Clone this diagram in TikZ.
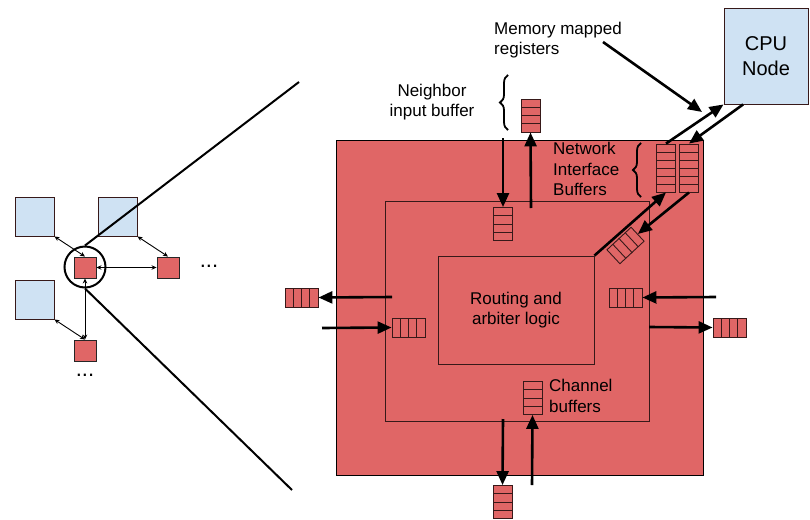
\documentclass[tikz,border=0pt]{standalone}
\usepackage{fontspec}
\setmainfont{Liberation Sans}
\usepackage{tikz}
\usetikzlibrary{arrows.meta,positioning,shapes,calc,decorations.pathreplacing}
\definecolor{router}{RGB}{224,102,102}
\definecolor{cpunode}{RGB}{207,226,243}
\definecolor{rim}{RGB}{55,25,25}

\begin{document}
\begin{tikzpicture}[x=1pt, y=-1pt,
  arr/.style={-{Triangle[length=14pt,width=12pt]}, line width=2.6pt},
  link/.style={{Stealth[length=5pt,width=4.5pt]}-{Stealth[length=5pt,width=4.5pt]}, line width=0.9pt},
  lbl/.style={font=\fontsize{17}{20.5}\selectfont, inner sep=0pt, align=left},
  cell/.style={draw=rim, fill=router, line width=0.9pt, inner sep=0pt},
  hbox/.style={cell, minimum width=33, minimum height=19},
  hbuf/.style={hbox,
    path picture={\foreach \k in {1,2,3}
      \draw[rim, line width=0.9pt]
        ($(path picture bounding box.north west)!\k/4!(path picture bounding box.north east)$) --
        ($(path picture bounding box.south west)!\k/4!(path picture bounding box.south east)$);}},
  vbuf/.style={cell, minimum width=19, minimum height=33,
    path picture={\foreach \k in {1,2,3}
      \draw[rim, line width=0.9pt]
        ($(path picture bounding box.north west)!\k/4!(path picture bounding box.south west)$) --
        ($(path picture bounding box.north east)!\k/4!(path picture bounding box.south east)$);}},
  nibuf/.style={cell, minimum width=19, minimum height=48,
    path picture={\foreach \k in {1,...,5}
      \draw[rim, line width=0.9pt]
        ($(path picture bounding box.north west)!\k/6!(path picture bounding box.south west)$) --
        ($(path picture bounding box.north east)!\k/6!(path picture bounding box.south east)$);}},
  core/.style={draw=rim, fill=cpunode, line width=0.9pt, minimum size=39, inner sep=0pt},
  hop/.style={cell, draw=black!85, minimum width=22, minimum height=21},
  brc/.style={decorate, decoration={brace, amplitude=8pt}, line width=1.8pt}]
\useasboundingbox (0,0) rectangle (810,519);
%% ---- small network ----
\node[core] (c1) at (34.5,216.5) {};
\node[core] (c2) at (117.5,216.5) {};
\node[core] (c3) at (34.5,299.5) {};
\node[hop] (r1) at (85,267.5) {};
\node[hop] (r2) at (168,267.5) {};
\node[hop] (r3) at (85,350.5) {};
\node[lbl, font=\fontsize{22}{22}\selectfont] (dots1) at (209,266) {...};
\node[lbl, font=\fontsize{22}{22}\selectfont] (dots2) at (85,375) {...};
\draw[link] (c1.south east) -- (r1.north);
\draw[link] (c2.south east) -- (r2.north);
\draw[link] (r1.east) -- (r2.west);
\draw[link] (r1.south) -- (r3.north);
\draw[link] (c3.south east) -- (r3.north);
\node[circle, draw, line width=2pt, minimum size=41, inner sep=0pt] (ring) at (85,267) {};
\coordinate (ztop) at (299,82);
\coordinate (zbot) at (292,490);
\draw[line width=2pt] (ring.north) -- (ztop);
\draw[line width=2pt] (ring.south) -- (zbot);
%% ---- router ----
\node[draw, fill=router, line width=0.9pt, minimum width=367, minimum height=335] (outer) at (519.5,307.5) {};
\node[draw=rim, line width=0.9pt, minimum width=264, minimum height=220] (inner) at (517,311) {};
\node[draw=rim, line width=0.9pt, minimum width=156, minimum height=108, lbl, align=center] (logic) at (516,310)
  {Routing and\\arbiter logic};
\node[vbuf] (nbuf) at (530.5,115.5) {};
\node[vbuf] (tbuf) at (503,224) {};
\node[hbuf] (lbuf) at (301.5,297.5) {};
\node[hbuf] (libuf) at (408.5,327.5) {};
\node[hbuf] (ribuf) at (625.5,297.5) {};
\node[hbuf] (robuf) at (729.5,327.5) {};
\node[vbuf] (chbuf) at (532.5,398) {};
\node[vbuf] (bbuf) at (502.5,502) {};
\node[nibuf] (nil) at (666,168) {};
\node[nibuf] (nir) at (689,168) {};
\node[hbox, rotate=43] (dbuf) at (625.5,245.5) {};
\foreach \k in {1,2,3}
  \draw[rim, line width=0.9pt] ($(dbuf.north west)!\k/4!(dbuf.north east)$) -- ($(dbuf.south west)!\k/4!(dbuf.south east)$);
\node[draw=rim, fill=cpunode, line width=0.9pt, minimum width=84, minimum height=96,
  font=\fontsize{20}{25}\selectfont, align=center] (cpu) at (766,56) {CPU\\Node};
%% ---- channels ----
\coordinate (tdown) at (503,138);
\coordinate (tup) at (531,208);
\coordinate (lout) at (392,297);
\coordinate (lin) at (322,328);
\coordinate (rin) at (716,297);
\coordinate (rout) at (649,327);
\coordinate (bdown) at (503,419);
\coordinate (bup) at (532,485);
\draw[arr] (tdown) -- (tbuf.north);
\draw[arr] (tup) -- (nbuf.south);
\draw[arr] (lout) -- (lbuf.east);
\draw[arr] (lin) -- (libuf.west);
\draw[arr] (rin) -- (ribuf.east);
\draw[arr] (rout) -- (robuf.west);
\draw[arr] (bdown) -- (bbuf.north);
\draw[arr] (bup) -- (chbuf.south);
\draw[arr] (logic.north east) -- (nil.south);
\draw[arr] (nir.south) -- (dbuf.east);
\draw[arr] (nil.north) -- (cpu.south west);
\draw[arr] ($(cpu.south west)!0.23!(cpu.south east)$) -- (nir.north);
\coordinate (mmfrom) at (603,42);
\coordinate (mmto) at (702,112);
\draw[arr] (mmfrom) -- (mmto);
%% ---- labels ----
\node[lbl, anchor=west] (mmlbl) at (494,40) {Memory mapped\\registers};
\node[lbl, align=center] (nblbl) at (432,102) {Neighbor\\input buffer};
\draw[brc] (508,130) -- (508,75);
\node[lbl, anchor=west] (nilbl) at (553,169) {Network\\Interface\\Buffers};
\draw[brc] (641,197) -- (641,143);
\node[lbl, anchor=west] (chlbl) at (549,396) {Channel\\buffers};
\end{tikzpicture}
\end{document}
